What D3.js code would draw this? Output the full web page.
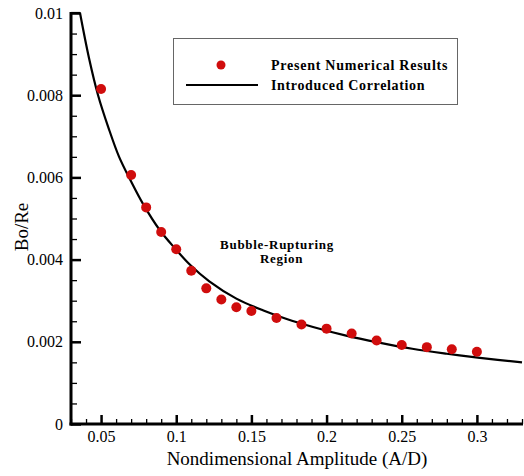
<!DOCTYPE html>
<html>
<head>
<meta charset="utf-8">
<script src="https://cdn.jsdelivr.net/npm/d3@7"></script>
<style>
  html, body { margin: 0; padding: 0; background: #fff; }
  svg { display: block; }
  text { font-family: "Liberation Serif", "Times New Roman", serif; fill: #000; }
</style>
</head>
<body>
<script>
// ---- data ----
const pointX = [0.05, 0.07, 0.08, 0.09, 0.10, 0.11, 0.12, 0.13, 0.14, 0.15, 0.1667, 0.1833, 0.20, 0.2167, 0.2333, 0.25, 0.2667, 0.2833, 0.30];
const pointY = [0.00815, 0.00606, 0.00527, 0.00467, 0.00425, 0.00373, 0.00330, 0.00303, 0.00284, 0.00275, 0.00258, 0.00242, 0.00232, 0.00220, 0.00203, 0.00192, 0.00187, 0.00182, 0.00176];
// correlation curve (first segment is the clipped part along the top frame)
const curveX = [0.0301, 0.036, 0.042, 0.048, 0.055, 0.062, 0.070, 0.078, 0.089, 0.099, 0.109, 0.122, 0.140, 0.158, 0.173, 0.191, 0.213, 0.235, 0.257, 0.280, 0.302, 0.33];
const curveY = [0.0100, 0.0100, 0.0089, 0.0080, 0.0072, 0.0065, 0.0059, 0.00535, 0.00472, 0.00428, 0.00388, 0.00347, 0.00305, 0.00276, 0.00256, 0.00236, 0.00215, 0.00198, 0.00183, 0.00171, 0.00161, 0.00150];
const xTicks = [0.05, 0.1, 0.15, 0.2, 0.25, 0.3];
const xTickLabels = ["0.05", "0.1", "0.15", "0.2", "0.25", "0.3"];
const yTicks = [0, 0.002, 0.004, 0.006, 0.008, 0.01];
const yTickLabels = ["0", "0.002", "0.004", "0.006", "0.008", "0.01"];
const legendLabels = ["Present Numerical Results", "Introduced Correlation"];
const regionLabel = ["Bubble-Rupturing", "Region"];
const xTitle = "Nondimensional Amplitude (A/D)";
const yTitle = "Bo/Re";

// ---- layout ----
const W = 524, H = 476;
const pL = 71, pR = 522, pT = 13, pB = 424;
const red = "#d00d0d";

const svg = d3.select("body").append("svg").attr("width", W).attr("height", H);

const x = d3.scaleLinear().domain([0.03, 0.33]).range([pL, pR]);
const y = d3.scaleLinear().domain([0, 0.01]).range([pB, pT]);

svg.append("defs").append("clipPath").attr("id", "clip")
  .append("rect").attr("x", pL).attr("y", pT - 2).attr("width", pR - pL + 2).attr("height", pB - pT + 2);

// minor ticks
const xMinor = d3.range(0.03, 0.3301, 0.01).filter(v => !xTicks.some(t => Math.abs(t - v) < 1e-6));
const yMinor = d3.range(0, 0.01001, 0.0005).filter(v => !yTicks.some(t => Math.abs(t - v) < 1e-9));

const gx = svg.append("g").attr("transform", `translate(0,${pB})`);
gx.call(d3.axisBottom(x).tickValues(xMinor).tickSize(-5).tickFormat(""));
gx.select(".domain").remove();
gx.selectAll("line").attr("stroke", "#000").attr("stroke-width", 1.3);

const gx2 = svg.append("g").attr("transform", `translate(0,${pB})`);
gx2.call(d3.axisBottom(x).tickValues(xTicks).tickSize(-9).tickPadding(7)
  .tickFormat((d, i) => xTickLabels[i]));
gx2.select(".domain").remove();
gx2.selectAll("line").attr("stroke", "#000").attr("stroke-width", 2.5);
gx2.selectAll("text").attr("font-size", 16).attr("font-family", "Liberation Serif, serif");

const gy = svg.append("g").attr("transform", `translate(${pL},0)`);
gy.call(d3.axisLeft(y).tickValues(yMinor).tickSize(-6).tickFormat(""));
gy.select(".domain").remove();
gy.selectAll("line").attr("stroke", "#000").attr("stroke-width", 1.3);

const gy2 = svg.append("g").attr("transform", `translate(${pL},0)`);
gy2.call(d3.axisLeft(y).tickValues(yTicks).tickSize(-10).tickPadding(8)
  .tickFormat((d, i) => yTickLabels[i]));
gy2.select(".domain").remove();
gy2.selectAll("line").attr("stroke", "#000").attr("stroke-width", 2.5);
gy2.selectAll("text").attr("font-size", 16).attr("font-family", "Liberation Serif, serif");

// axis lines
svg.append("line").attr("x1", pL).attr("x2", pL).attr("y1", pT - 1).attr("y2", pB + 1.5)
  .attr("stroke", "#000").attr("stroke-width", 3);
svg.append("line").attr("x1", pL - 1.5).attr("x2", pR + 1).attr("y1", pB).attr("y2", pB)
  .attr("stroke", "#000").attr("stroke-width", 3);

// correlation curve
const curveData = curveX.map((v, i) => [v, curveY[i]]);
const gCurve = svg.append("g").attr("clip-path", "url(#clip)")
  .attr("fill", "none").attr("stroke", "#000").attr("stroke-width", 2.2).attr("stroke-linejoin", "miter");
gCurve.append("path").datum(curveData.slice(0, 2))
  .attr("d", d3.line().x(d => x(d[0])).y(d => y(d[1])));
gCurve.append("path").datum(curveData.slice(1))
  .attr("d", d3.line().x(d => x(d[0])).y(d => y(d[1])).curve(d3.curveCatmullRom.alpha(0.5)));

// points
svg.append("g").selectAll("circle")
  .data(pointX.map((v, i) => [v, pointY[i]]))
  .join("circle")
  .attr("cx", d => x(d[0]))
  .attr("cy", d => y(d[1]))
  .attr("r", 5)
  .attr("fill", red);

// region label
svg.append("text").attr("x", 277).attr("y", 249).attr("text-anchor", "middle")
  .attr("font-size", 13).attr("font-weight", "bold").attr("letter-spacing", 0.7).text(regionLabel[0]);
svg.append("text").attr("x", 281.5).attr("y", 263).attr("text-anchor", "middle")
  .attr("font-size", 13).attr("font-weight", "bold").attr("letter-spacing", 0.7).text(regionLabel[1]);

// legend
svg.append("rect").attr("x", 173.5).attr("y", 38.5).attr("width", 284).attr("height", 66)
  .attr("fill", "#fff").attr("stroke", "#666").attr("stroke-width", 1);
svg.append("circle").attr("cx", 221).attr("cy", 65).attr("r", 4.5).attr("fill", red);
svg.append("line").attr("x1", 186).attr("x2", 258).attr("y1", 85).attr("y2", 85)
  .attr("stroke", "#000").attr("stroke-width", 2.2);
svg.append("text").attr("x", 271).attr("y", 70).attr("font-size", 14).attr("font-weight", "bold")
  .attr("letter-spacing", 0.75).text(legendLabels[0]);
svg.append("text").attr("x", 271).attr("y", 90).attr("font-size", 14).attr("font-weight", "bold")
  .attr("letter-spacing", 0.65).text(legendLabels[1]);

// axis titles
svg.append("text").attr("x", 297).attr("y", 465).attr("text-anchor", "middle")
  .attr("font-size", 19).text(xTitle);
svg.append("text").attr("transform", "translate(28,227) rotate(-90)").attr("text-anchor", "middle")
  .attr("font-size", 19).text(yTitle);
</script>
</body>
</html>
